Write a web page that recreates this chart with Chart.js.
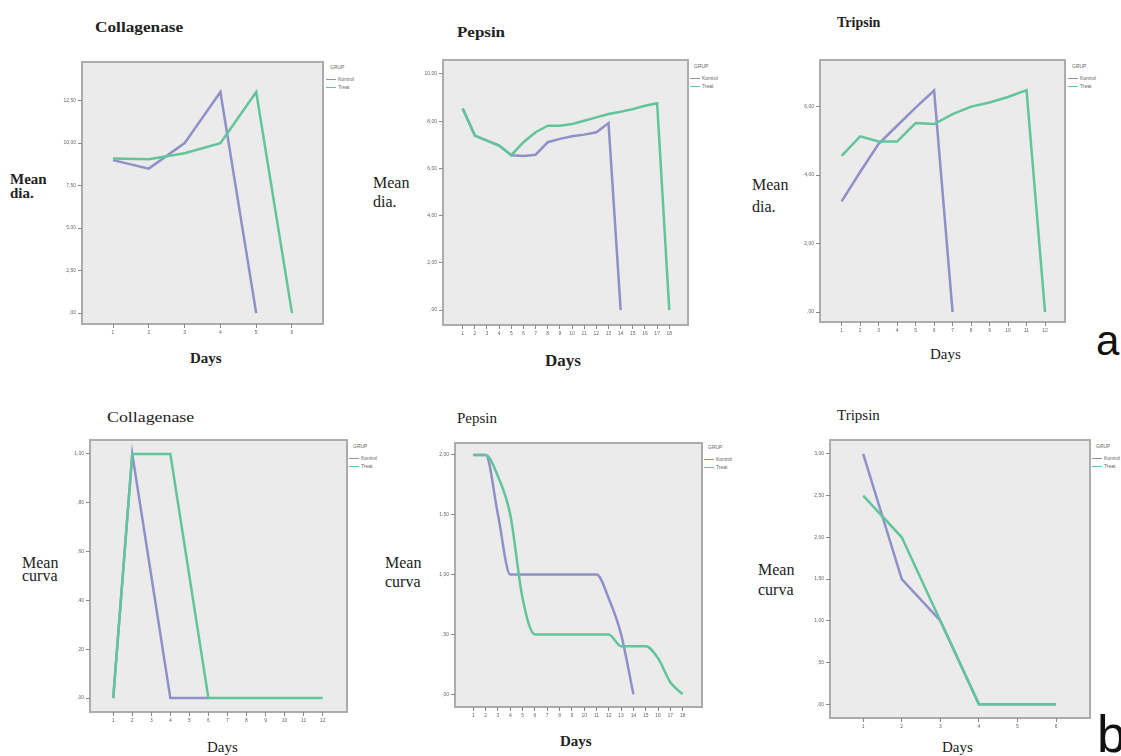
<!DOCTYPE html>
<html>
<head>
<meta charset="utf-8">
<script src="https://cdn.jsdelivr.net/npm/chart.js@4"></script>
<style>
  body { margin: 0; width: 1121px; height: 756px; background: #fff; position: relative; overflow: hidden; font-family: "Liberation Serif", serif; color: #222; }
  canvas { position: absolute; }
  .t { position: absolute; white-space: nowrap; line-height: 1; transform-origin: left center; }
  .b { font-weight: bold; }
  .lg { position: absolute; white-space: nowrap; line-height: 1; font: 5px "Liberation Sans", sans-serif; color: #666; }
  .ln { position: absolute; height: 1px; width: 10px; }
  .big { position: absolute; line-height: 1; font-family: "Liberation Sans", Arial, sans-serif; color: #111; }
</style>
</head>
<body>

<!-- titles -->
<div class="t b" style="left:95px;top:20px;font-size:15px;transform:scaleX(1.15)">Collagenase</div>
<div class="t b" style="left:457px;top:25px;font-size:15px;transform:scaleX(1.13)">Pepsin</div>
<div class="t b" style="left:837px;top:16px;font-size:14px">Tripsin</div>
<div class="t" style="left:107px;top:410px;font-size:15px;transform:scaleX(1.19)">Collagenase</div>
<div class="t" style="left:457px;top:411px;font-size:15px">Pepsin</div>
<div class="t" style="left:837px;top:408px;font-size:15px">Tripsin</div>

<!-- y axis labels -->
<div class="t b" style="left:10px;top:172px;font-size:15px">Mean</div>
<div class="t b" style="left:10px;top:186px;font-size:15px">dia.</div>
<div class="t" style="left:373px;top:175px;font-size:16px">Mean</div>
<div class="t" style="left:373px;top:194px;font-size:16px">dia.</div>
<div class="t" style="left:752px;top:177px;font-size:16px">Mean</div>
<div class="t" style="left:752px;top:199px;font-size:16px">dia.</div>
<div class="t" style="left:22px;top:555px;font-size:16px">Mean</div>
<div class="t" style="left:22px;top:568px;font-size:16px">curva</div>
<div class="t" style="left:385px;top:555px;font-size:16px">Mean</div>
<div class="t" style="left:385px;top:574px;font-size:16px">curva</div>
<div class="t" style="left:758px;top:562px;font-size:16px">Mean</div>
<div class="t" style="left:758px;top:582px;font-size:16px">curva</div>

<!-- x axis labels -->
<div class="t b" style="left:190px;top:351px;font-size:15px">Days</div>
<div class="t b" style="left:545px;top:352px;font-size:17px">Days</div>
<div class="t" style="left:930px;top:347px;font-size:15px">Days</div>
<div class="t" style="left:207px;top:740px;font-size:15px">Days</div>
<div class="t b" style="left:560px;top:734px;font-size:15px">Days</div>
<div class="t" style="left:942px;top:740px;font-size:15px">Days</div>

<div class="big" style="left:1096px;top:320px;font-size:42px">a</div>
<div class="big" style="left:1097px;top:708px;font-size:52px">b</div>

<script>
// ---- data ----
const colDiaDays = [1, 2, 3, 4, 5, 6];
const colDiaKontrol = [9.0, 8.5, 10.0, 13.0, 0];
const colDiaTreat = [9.1, 9.05, 9.4, 10.0, 13.0, 0];

const pepDiaDays = [1, 2, 3, 4, 5, 6, 7, 8, 9, 10, 11, 12, 13, 14, 15, 16, 17, 18];
const pepDiaKontrol = [8.54, 7.39, 7.18, 6.97, 6.56, 6.53, 6.58, 7.11, 7.25, 7.36, 7.43, 7.53, 7.92, 0];
const pepDiaTreat = [8.54, 7.39, 7.18, 6.97, 6.56, 7.11, 7.53, 7.81, 7.81, 7.88, 8.02, 8.16, 8.30, 8.40, 8.51, 8.65, 8.76, 0];

const triDiaDays = [1, 2, 3, 4, 5, 6, 7, 8, 9, 10, 11, 12];
const triDiaKontrol = [3.23, 4.09, 4.91, 5.44, 5.97, 6.47, 0];
const triDiaTreat = [4.56, 5.13, 4.98, 4.98, 5.52, 5.49, 5.78, 6.0, 6.12, 6.28, 6.48, 0];

const colCurDays = [1, 2, 3, 4, 5, 6, 7, 8, 9, 10, 11, 12];
const colCurKontrol = [0, 1, 0.5, 0, 0, 0];
const colCurTreat = [0, 1, 1, 1, 0.5, 0, 0, 0, 0, 0, 0, 0];

const pepCurDays = [1, 2, 3, 4, 5, 6, 7, 8, 9, 10, 11, 12, 13, 14, 15, 16, 17, 18];
const pepCurKontrol = [2, 2, 1.5, 1, 1, 1, 1, 1, 1, 1, 1, 0.8, 0.5, 0];
const pepCurTreat = [2, 2, 1.82, 1.5, 0.8, 0.5, 0.5, 0.5, 0.5, 0.5, 0.5, 0.5, 0.4, 0.4, 0.4, 0.3, 0.1, 0];

const triCurDays = [1, 2, 3, 4, 5, 6];
const triCurKontrol = [3, 1.5, 1, 0, 0, 0];
const triCurTreat = [2.5, 2, 1, 0, 0, 0];

// tick values and their SPSS-style labels
const colDiaTicks = [0, 2.5, 5, 7.5, 10, 12.5];
const colDiaLabels = [",00", "2,50", "5,00", "7,50", "10,00", "12,50"];
const pepDiaTicks = [0, 2, 4, 6, 8, 10];
const pepDiaLabels = [",00", "2,00", "4,00", "6,00", "8,00", "10,00"];
const triDiaTicks = [0, 2, 4, 6];
const triDiaLabels = [",00", "2,00", "4,00", "6,00"];
const colCurTicks = [0, 0.2, 0.4, 0.6, 0.8, 1];
const colCurLabels = [",00", ",20", ",40", ",60", ",80", "1,00"];
const pepCurTicks = [0, 0.5, 1, 1.5, 2];
const pepCurLabels = [",00", ",50", "1,00", "1,50", "2,00"];
const triCurTicks = [0, 0.5, 1, 1.5, 2, 2.5, 3];
const triCurLabels = [",00", ",50", "1,00", "1,50", "2,00", "2,50", "3,00"];

const KONTROL = "#8e90c8";
const TREAT = "#62c49a";

// frame: [left, top, right, bottom] of the grey plot box
const panels = [
    { frame: [82, 59, 323, 324], days: colDiaDays, k: colDiaKontrol, t: colDiaTreat, x: [0.134, 6.866], y: [-0.64, 14.77], ticks: colDiaTicks, labels: colDiaLabels, legend: [326, 67] },
    { frame: [443, 57, 688, 325], days: pepDiaDays, k: pepDiaKontrol, t: pepDiaTreat, x: [-0.62, 19.54], y: [-0.63, 10.59], ticks: pepDiaTicks, labels: pepDiaLabels, legend: [690, 66] },
    { frame: [820, 57, 1065, 322], days: triDiaDays, k: triDiaKontrol, t: triDiaTreat, x: [-0.17, 13.08], y: [-0.29, 7.36], ticks: triDiaTicks, labels: triDiaLabels, legend: [1068, 66] },
    { frame: [90, 437, 347, 712], days: colCurDays, k: colCurKontrol, t: colCurTreat, x: [-0.22, 13.28], y: [-0.057, 1.057], ticks: colCurTicks, labels: colCurLabels, legend: [349, 446] },
    { frame: [455, 440, 702, 707], days: pepCurDays, k: pepCurKontrol, t: pepCurTreat, x: [-0.49, 19.57], y: [-0.107, 2.1], ticks: pepCurTicks, labels: pepCurLabels, legend: [704, 447], smooth: true },
    { frame: [830, 437, 1090, 718], days: triCurDays, k: triCurKontrol, t: triCurTreat, x: [0.14, 6.88], y: [-0.166, 3.166], ticks: triCurTicks, labels: triCurLabels, legend: [1092, 446] }
];

const Y_W = 28, X_H = 18, PAD = 2;

const framePlugin = {
    id: "frame",
    beforeDraw(chart) {
        const a = chart.chartArea, ctx = chart.ctx;
        ctx.save();
        ctx.fillStyle = "#ebebeb";
        ctx.fillRect(a.left, a.top, a.right - a.left, a.bottom - a.top);
        ctx.strokeStyle = "#acacac";
        ctx.lineWidth = 2;
        ctx.strokeRect(a.left, a.top, a.right - a.left, a.bottom - a.top);
        ctx.restore();
    }
};

const pts = (days, vals) => vals.map((v, i) => ({ x: days[i], y: v }));

panels.forEach(p => {
    const [L, T, R, B] = p.frame;
    const cv = document.createElement("canvas");
    cv.width = (R - L) + Y_W + PAD;
    cv.height = (B - T) + PAD + X_H;
    cv.style.left = (L - Y_W) + "px";
    cv.style.top = (T - PAD) + "px";
    document.body.appendChild(cv);

    const line = (label, data, color, order) => ({
        label, data, order,
        borderColor: color,
        borderWidth: 2.5,
        pointRadius: 0,
        fill: false,
        tension: p.smooth ? 0.4 : 0,
        cubicInterpolationMode: p.smooth ? "monotone" : "default"
    });

    new Chart(cv, {
        type: "line",
        data: {
            datasets: [
                line("Kontrol", pts(p.days, p.k), KONTROL, 1),
                line("Treat", pts(p.days, p.t), TREAT, 0)
            ]
        },
        options: {
            responsive: false,
            animation: false,
            layout: { padding: { top: PAD, right: PAD, left: 0, bottom: 0 } },
            plugins: { legend: { display: false }, tooltip: { enabled: false } },
            scales: {
                x: {
                    type: "linear",
                    bounds: "data",
                    min: p.x[0], max: p.x[1],
                    afterFit: s => { s.height = X_H; },
                    afterBuildTicks: s => { s.ticks = p.days.map(d => ({ value: d })); },
                    grid: { drawOnChartArea: false, tickLength: 4, color: "#888" },
                    border: { display: false },
                    ticks: { autoSkip: false, maxRotation: 0, padding: 2, color: "#666",
                             font: { size: 5, family: "Liberation Sans" },
                             callback: v => String(v) }
                },
                y: {
                    type: "linear",
                    bounds: "data",
                    min: p.y[0], max: p.y[1],
                    afterFit: s => { s.width = Y_W; },
                    afterBuildTicks: s => { s.ticks = p.ticks.map(v => ({ value: v })); },
                    grid: { drawOnChartArea: false, tickLength: 4, color: "#888" },
                    border: { display: false },
                    ticks: { autoSkip: false, padding: 2, color: "#666",
                             font: { size: 5, family: "Liberation Sans" },
                             callback: v => p.labels[p.ticks.indexOf(v)] }
                }
            }
        },
        plugins: [framePlugin]
    });

    // small SPSS-style legend to the right of each box
    const [lx, ly] = p.legend;
    const add = (html, cls, style) => {
        const d = document.createElement("div");
        d.className = cls;
        d.style.cssText = style;
        d.textContent = html;
        document.body.appendChild(d);
    };
    add("GRUP", "lg", `left:${lx + 4}px;top:${ly - 3}px`);
    add("", "ln", `left:${lx}px;top:${ly + 12}px;background:${KONTROL}`);
    add("Kontrol", "lg", `left:${lx + 12}px;top:${ly + 9}px`);
    add("", "ln", `left:${lx}px;top:${ly + 20}px;background:${TREAT}`);
    add("Treat", "lg", `left:${lx + 12}px;top:${ly + 17}px`);
});
</script>
</body>
</html>
